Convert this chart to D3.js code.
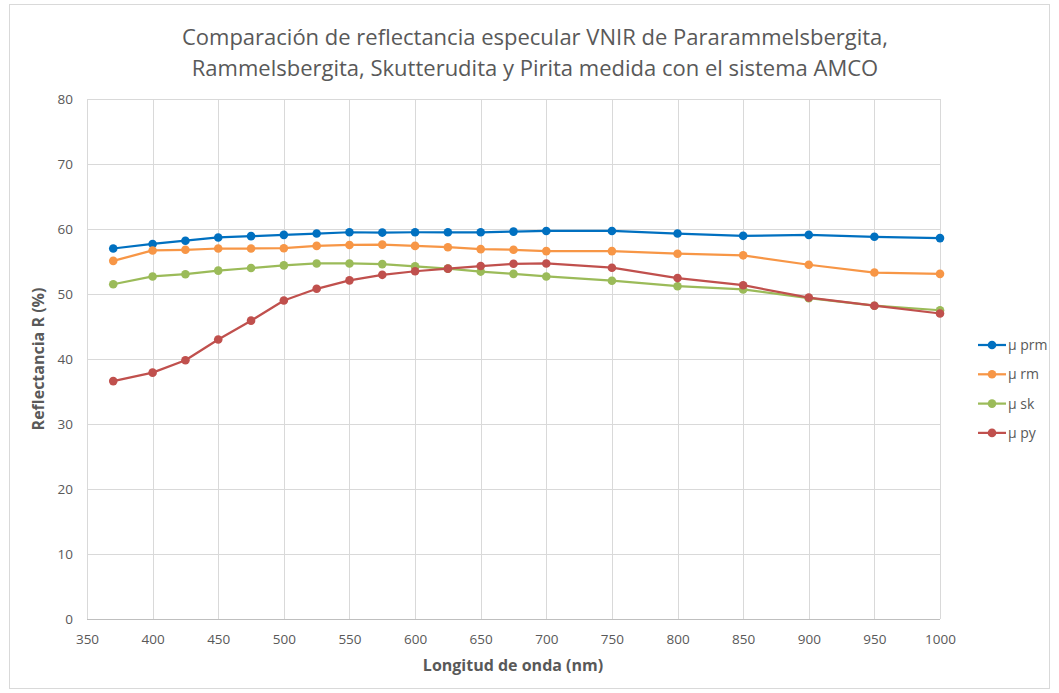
<!DOCTYPE html>
<html><head><meta charset="utf-8">
<script src="https://cdn.jsdelivr.net/npm/d3@7"></script>
<style>body{margin:0;background:#fff;} svg{display:block;}</style>
</head><body>
<svg id="c" width="1059" height="693"></svg>
<script>
const wavelengths = [370,400,425,450,475,500,525,550,575,600,625,650,675,700,750,800,850,900,950,1000];
const prm = [57.0,57.7,58.2,58.7,58.9,59.1,59.3,59.5,59.45,59.5,59.5,59.5,59.6,59.7,59.7,59.3,58.95,59.1,58.8,58.6];
const rm  = [55.1,56.7,56.8,57.0,57.0,57.05,57.4,57.55,57.6,57.4,57.2,56.9,56.8,56.6,56.6,56.2,55.95,54.5,53.3,53.1];
const sk  = [51.5,52.7,53.05,53.6,54.0,54.4,54.7,54.7,54.6,54.25,53.9,53.45,53.1,52.7,52.05,51.2,50.7,49.35,48.2,47.5];
const py  = [36.6,37.9,39.8,43.0,45.9,49.0,50.8,52.1,52.95,53.5,53.9,54.3,54.65,54.7,54.05,52.45,51.35,49.45,48.2,47.0];
const seriesNames = ["µ prm","µ rm","µ sk","µ py"];
const seriesColors = ["#0070C0","#F79646","#9BBB59","#C0504D"];
const xTicks = [350,400,450,500,550,600,650,700,750,800,850,900,950,1000];
const yTicks = [0,10,20,30,40,50,60,70,80];
const titleLines = ["Comparación de reflectancia especular VNIR de Pararammelsbergita,","Rammelsbergita, Skutterudita y Pirita medida con el sistema AMCO"];

const svg = d3.select("#c");
const font = "'Open Sans', 'Noto Sans', sans-serif";
svg.append("rect").attr("x",9.5).attr("y",4.5).attr("width",1040).attr("height",684)
  .attr("fill","#fff").attr("stroke","#d9d9d9");

const x = d3.scaleLinear().domain([350,1000]).range([87,940]);
const y = d3.scaleLinear().domain([0,80]).range([619,99]);

// grid
svg.append("g").selectAll("line").data(yTicks).join("line")
  .attr("x1",x(350)).attr("x2",x(1000)).attr("y1",d=>y(d)+0.5).attr("y2",d=>y(d)+0.5)
  .attr("stroke",d=>d===0?"#bfbfbf":"#d9d9d9").attr("stroke-width",1);
svg.append("g").selectAll("line").data(xTicks).join("line")
  .attr("x1",d=>Math.round(x(d))+0.5).attr("x2",d=>Math.round(x(d))+0.5).attr("y1",y(80)).attr("y2",y(0))
  .attr("stroke","#d9d9d9").attr("stroke-width",1);

// axes labels via d3 axes
const xAxis = svg.append("g").attr("transform",`translate(0,${y(0)})`)
  .call(d3.axisBottom(x).tickValues(xTicks).tickSize(0).tickPadding(15).tickFormat(d3.format("d")));
const yAxis = svg.append("g").attr("transform",`translate(${x(350)},0)`)
  .call(d3.axisLeft(y).tickValues(yTicks).tickSize(0).tickPadding(14).tickFormat(d3.format("d")));
[xAxis,yAxis].forEach(a=>{
  a.select(".domain").remove();
  a.selectAll("text").attr("fill","#595959").style("font-family",font).style("font-size","13.5px");
});

// title
svg.append("g").selectAll("text").data(titleLines).join("text")
  .attr("x",535).attr("y",(d,i)=>45+i*31).attr("text-anchor","middle")
  .attr("fill","#595959").style("font-family",font).style("font-size","22px").text(d=>d);

svg.append("text").attr("x",513).attr("y",671).attr("text-anchor","middle")
  .attr("fill","#595959").style("font-family",font).style("font-size","16px").style("font-weight","bold")
  .text("Longitud de onda (nm)");
svg.append("text").attr("transform","translate(44,359) rotate(-90)").attr("text-anchor","middle")
  .attr("fill","#595959").style("font-family",font).style("font-size","16px").style("font-weight","bold")
  .text("Reflectancia R (%)");

const allSeries = [prm,rm,sk,py];
const line = d3.line().x((d,i)=>x(wavelengths[i])).y(d=>y(d));
allSeries.forEach((s,k)=>{
  const g = svg.append("g");
  g.append("path").datum(s).attr("d",line).attr("fill","none")
    .attr("stroke",seriesColors[k]).attr("stroke-width",2.25).attr("stroke-linejoin","round");
  g.selectAll("circle").data(s).join("circle")
    .attr("cx",(d,i)=>x(wavelengths[i])).attr("cy",d=>y(d)).attr("r",4.3)
    .attr("fill",seriesColors[k]);
});

// legend
const lg = svg.append("g");
seriesNames.forEach((n,k)=>{
  const yy = 345 + k*29.3;
  lg.append("line").attr("x1",978).attr("x2",1006).attr("y1",yy).attr("y2",yy)
    .attr("stroke",seriesColors[k]).attr("stroke-width",2.25);
  lg.append("circle").attr("cx",992).attr("cy",yy).attr("r",4.3).attr("fill",seriesColors[k]);
  lg.append("text").attr("x",1008).attr("y",yy+5).attr("fill","#595959")
    .style("font-family",font).style("font-size","14px").text(n);
});
</script>
</body></html>
